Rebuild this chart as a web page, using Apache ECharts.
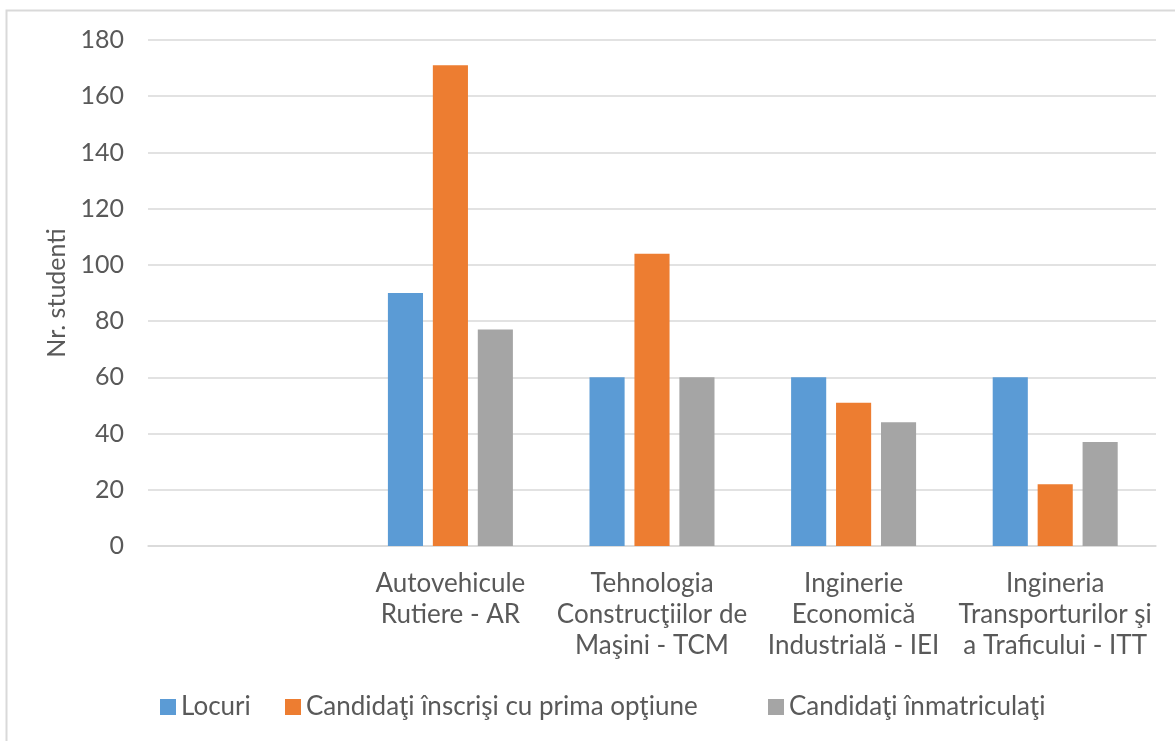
<!DOCTYPE html>
<html>
<head>
<meta charset="utf-8">
<script src="https://cdn.jsdelivr.net/npm/echarts@6/dist/echarts.min.js"></script>
<style>
html,body{margin:0;padding:0;background:#fff;}
#chart{width:1175px;height:741px;}
</style>
</head>
<body>
<div id="chart"></div>
<script>
const categories = ["", "Autovehicule\nRutiere - AR", "Tehnologia\nConstrucţiilor de\nMaşini - TCM", "Inginerie\nEconomică\nIndustrială - IEI", "Ingineria\nTransporturilor şi\na Traficului - ITT"];
const seriesNames = ["Locuri", "Candidaţi înscrişi cu prima opţiune", "Candidaţi înmatriculaţi"];
const locuri = [null, 90, 60, 60, 60];
const inscrisi = [null, 171, 104, 51, 22];
const inmatriculati = [null, 77, 60, 44, 37];
const colors = ["#5b9bd5", "#ed7d31", "#a5a5a5"];
const FONT = "Lato";
const legendLefts = [155, 280, 763];

const chart = echarts.init(document.getElementById('chart'), null, {renderer: 'canvas'});
const data = [locuri, inscrisi, inmatriculati];
chart.setOption({
  animation: false,
  textStyle: {fontFamily: FONT},
  graphic: [{
    type: 'rect',
    shape: {x: 6.5, y: 10.5, width: 1200, height: 800},
    style: {fill: 'none', stroke: '#d9d9d9', lineWidth: 2},
    silent: true
  }],
  grid: {left: 148, right: 19, top: 40, bottom: 195},
  legend: seriesNames.map((n, i) => ({
    data: [n],
    left: legendLefts[i],
    top: 689,
    itemWidth: 16,
    itemHeight: 16,
    icon: 'rect',
    textStyle: {fontFamily: FONT, fontSize: 26, color: '#595959'}
  })),
  xAxis: {
    type: 'category',
    data: categories,
    axisLine: {lineStyle: {color: '#d9d9d9', width: 1.5}},
    axisTick: {show: false},
    axisLabel: {interval: 0, fontFamily: FONT, fontSize: 26, color: '#595959', lineHeight: 31, margin: 22}
  },
  yAxis: {
    type: 'value',
    min: 0, max: 180, interval: 20,
    name: 'Nr. studenti',
    nameLocation: 'middle',
    nameGap: 74,
    nameTextStyle: {fontFamily: FONT, fontSize: 25, color: '#595959'},
    axisLine: {show: false},
    axisTick: {show: false},
    axisLabel: {fontFamily: FONT, fontSize: 25, color: '#595959', margin: 24},
    splitLine: {lineStyle: {color: '#d9d9d9', width: 1.5}}
  },
  series: seriesNames.map((n, i) => ({
    name: n,
    type: 'bar',
    data: data[i],
    itemStyle: {color: colors[i]},
    barGap: '28%',
    barCategoryGap: '38%'
  }))
});
</script>
</body>
</html>
